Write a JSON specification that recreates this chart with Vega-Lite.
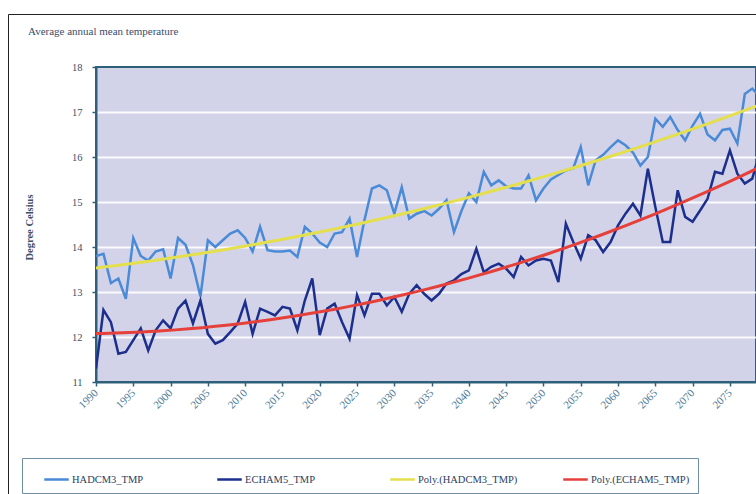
{
  "$schema": "https://vega.github.io/schema/vega-lite/v6.json",
  "width": 660,
  "height": 315,
  "autosize": {"type": "none"},
  "padding": {"left": 96, "top": 67, "right": 0, "bottom": 112},
  "background": "white",
  "title": {"text": "Average annual mean temperature", "anchor": "start", "frame": "group", "dx": -68, "dy": 53, "offset": 30, "fontSize": 11, "font": "Liberation Serif", "fontWeight": "normal", "color": "#3a4d6b"},
  "data": {"values": [
    {"year": 1990, "HADCM3_TMP": 13.8, "ECHAM5_TMP": 11.3},
    {"year": 1991, "HADCM3_TMP": 13.85, "ECHAM5_TMP": 12.6},
    {"year": 1992, "HADCM3_TMP": 13.2, "ECHAM5_TMP": 12.33},
    {"year": 1993, "HADCM3_TMP": 13.3, "ECHAM5_TMP": 11.63},
    {"year": 1994, "HADCM3_TMP": 12.85, "ECHAM5_TMP": 11.67},
    {"year": 1995, "HADCM3_TMP": 14.2, "ECHAM5_TMP": 11.93},
    {"year": 1996, "HADCM3_TMP": 13.8, "ECHAM5_TMP": 12.19},
    {"year": 1997, "HADCM3_TMP": 13.7, "ECHAM5_TMP": 11.7},
    {"year": 1998, "HADCM3_TMP": 13.9, "ECHAM5_TMP": 12.15},
    {"year": 1999, "HADCM3_TMP": 13.95, "ECHAM5_TMP": 12.37},
    {"year": 2000, "HADCM3_TMP": 13.3, "ECHAM5_TMP": 12.19},
    {"year": 2001, "HADCM3_TMP": 14.2, "ECHAM5_TMP": 12.63},
    {"year": 2002, "HADCM3_TMP": 14.05, "ECHAM5_TMP": 12.81},
    {"year": 2003, "HADCM3_TMP": 13.6, "ECHAM5_TMP": 12.3},
    {"year": 2004, "HADCM3_TMP": 12.9, "ECHAM5_TMP": 12.81},
    {"year": 2005, "HADCM3_TMP": 14.15, "ECHAM5_TMP": 12.07},
    {"year": 2006, "HADCM3_TMP": 14.0, "ECHAM5_TMP": 11.85},
    {"year": 2007, "HADCM3_TMP": 14.15, "ECHAM5_TMP": 11.93},
    {"year": 2008, "HADCM3_TMP": 14.3, "ECHAM5_TMP": 12.11},
    {"year": 2009, "HADCM3_TMP": 14.37, "ECHAM5_TMP": 12.3},
    {"year": 2010, "HADCM3_TMP": 14.2, "ECHAM5_TMP": 12.78},
    {"year": 2011, "HADCM3_TMP": 13.9, "ECHAM5_TMP": 12.07},
    {"year": 2012, "HADCM3_TMP": 14.45, "ECHAM5_TMP": 12.63},
    {"year": 2013, "HADCM3_TMP": 13.93, "ECHAM5_TMP": 12.56},
    {"year": 2014, "HADCM3_TMP": 13.9, "ECHAM5_TMP": 12.48},
    {"year": 2015, "HADCM3_TMP": 13.9, "ECHAM5_TMP": 12.67},
    {"year": 2016, "HADCM3_TMP": 13.92, "ECHAM5_TMP": 12.63},
    {"year": 2017, "HADCM3_TMP": 13.78, "ECHAM5_TMP": 12.15},
    {"year": 2018, "HADCM3_TMP": 14.45, "ECHAM5_TMP": 12.81},
    {"year": 2019, "HADCM3_TMP": 14.3, "ECHAM5_TMP": 13.3},
    {"year": 2020, "HADCM3_TMP": 14.1, "ECHAM5_TMP": 12.04},
    {"year": 2021, "HADCM3_TMP": 14.0, "ECHAM5_TMP": 12.63},
    {"year": 2022, "HADCM3_TMP": 14.3, "ECHAM5_TMP": 12.74},
    {"year": 2023, "HADCM3_TMP": 14.33, "ECHAM5_TMP": 12.33},
    {"year": 2024, "HADCM3_TMP": 14.63, "ECHAM5_TMP": 11.96},
    {"year": 2025, "HADCM3_TMP": 13.78, "ECHAM5_TMP": 12.93},
    {"year": 2026, "HADCM3_TMP": 14.6, "ECHAM5_TMP": 12.48},
    {"year": 2027, "HADCM3_TMP": 15.3, "ECHAM5_TMP": 12.96},
    {"year": 2028, "HADCM3_TMP": 15.37, "ECHAM5_TMP": 12.96},
    {"year": 2029, "HADCM3_TMP": 15.26, "ECHAM5_TMP": 12.7},
    {"year": 2030, "HADCM3_TMP": 14.74, "ECHAM5_TMP": 12.89},
    {"year": 2031, "HADCM3_TMP": 15.33, "ECHAM5_TMP": 12.56},
    {"year": 2032, "HADCM3_TMP": 14.63, "ECHAM5_TMP": 12.96},
    {"year": 2033, "HADCM3_TMP": 14.74, "ECHAM5_TMP": 13.15},
    {"year": 2034, "HADCM3_TMP": 14.8, "ECHAM5_TMP": 12.96},
    {"year": 2035, "HADCM3_TMP": 14.7, "ECHAM5_TMP": 12.81},
    {"year": 2036, "HADCM3_TMP": 14.85, "ECHAM5_TMP": 12.96},
    {"year": 2037, "HADCM3_TMP": 15.04, "ECHAM5_TMP": 13.19},
    {"year": 2038, "HADCM3_TMP": 14.33, "ECHAM5_TMP": 13.26},
    {"year": 2039, "HADCM3_TMP": 14.8, "ECHAM5_TMP": 13.4},
    {"year": 2040, "HADCM3_TMP": 15.19, "ECHAM5_TMP": 13.48},
    {"year": 2041, "HADCM3_TMP": 15.0, "ECHAM5_TMP": 13.96},
    {"year": 2042, "HADCM3_TMP": 15.67, "ECHAM5_TMP": 13.44},
    {"year": 2043, "HADCM3_TMP": 15.37, "ECHAM5_TMP": 13.56},
    {"year": 2044, "HADCM3_TMP": 15.48, "ECHAM5_TMP": 13.63},
    {"year": 2045, "HADCM3_TMP": 15.35, "ECHAM5_TMP": 13.52},
    {"year": 2046, "HADCM3_TMP": 15.3, "ECHAM5_TMP": 13.33},
    {"year": 2047, "HADCM3_TMP": 15.3, "ECHAM5_TMP": 13.78},
    {"year": 2048, "HADCM3_TMP": 15.59, "ECHAM5_TMP": 13.59},
    {"year": 2049, "HADCM3_TMP": 15.04, "ECHAM5_TMP": 13.7},
    {"year": 2050, "HADCM3_TMP": 15.3, "ECHAM5_TMP": 13.74},
    {"year": 2051, "HADCM3_TMP": 15.5, "ECHAM5_TMP": 13.7},
    {"year": 2052, "HADCM3_TMP": 15.6, "ECHAM5_TMP": 13.22},
    {"year": 2053, "HADCM3_TMP": 15.7, "ECHAM5_TMP": 14.52},
    {"year": 2054, "HADCM3_TMP": 15.75, "ECHAM5_TMP": 14.11},
    {"year": 2055, "HADCM3_TMP": 16.22, "ECHAM5_TMP": 13.74},
    {"year": 2056, "HADCM3_TMP": 15.37, "ECHAM5_TMP": 14.26},
    {"year": 2057, "HADCM3_TMP": 15.93, "ECHAM5_TMP": 14.15},
    {"year": 2058, "HADCM3_TMP": 16.05, "ECHAM5_TMP": 13.89},
    {"year": 2059, "HADCM3_TMP": 16.22, "ECHAM5_TMP": 14.11},
    {"year": 2060, "HADCM3_TMP": 16.37, "ECHAM5_TMP": 14.48},
    {"year": 2061, "HADCM3_TMP": 16.26, "ECHAM5_TMP": 14.74},
    {"year": 2062, "HADCM3_TMP": 16.1, "ECHAM5_TMP": 14.96},
    {"year": 2063, "HADCM3_TMP": 15.81, "ECHAM5_TMP": 14.7},
    {"year": 2064, "HADCM3_TMP": 16.0, "ECHAM5_TMP": 15.74},
    {"year": 2065, "HADCM3_TMP": 16.85, "ECHAM5_TMP": 14.89},
    {"year": 2066, "HADCM3_TMP": 16.67, "ECHAM5_TMP": 14.11},
    {"year": 2067, "HADCM3_TMP": 16.89, "ECHAM5_TMP": 14.11},
    {"year": 2068, "HADCM3_TMP": 16.6, "ECHAM5_TMP": 15.26},
    {"year": 2069, "HADCM3_TMP": 16.37, "ECHAM5_TMP": 14.67},
    {"year": 2070, "HADCM3_TMP": 16.7, "ECHAM5_TMP": 14.56},
    {"year": 2071, "HADCM3_TMP": 16.96, "ECHAM5_TMP": 14.81},
    {"year": 2072, "HADCM3_TMP": 16.5, "ECHAM5_TMP": 15.07},
    {"year": 2073, "HADCM3_TMP": 16.37, "ECHAM5_TMP": 15.67},
    {"year": 2074, "HADCM3_TMP": 16.6, "ECHAM5_TMP": 15.63},
    {"year": 2075, "HADCM3_TMP": 16.63, "ECHAM5_TMP": 16.15},
    {"year": 2076, "HADCM3_TMP": 16.3, "ECHAM5_TMP": 15.63},
    {"year": 2077, "HADCM3_TMP": 17.4, "ECHAM5_TMP": 15.41},
    {"year": 2078, "HADCM3_TMP": 17.52, "ECHAM5_TMP": 15.52},
    {"year": 2079, "HADCM3_TMP": 17.35, "ECHAM5_TMP": 16.1}
  ]},
  "encoding": {
    "x": {"field": "year", "type": "quantitative", "title": null,
      "scale": {"domain": [1990, 2078.5], "nice": false, "zero": false},
      "axis": {"values": [1990,1995,2000,2005,2010,2015,2020,2025,2030,2035,2040,2045,2050,2055,2060,2065,2070,2075], "format": "d", "labelAngle": -45, "labelAlign": "right", "labelBaseline": "middle", "labelFont": "Liberation Serif", "labelFontSize": 11, "labelColor": "#4a7898", "labelPadding": 5, "tickSize": 4, "tickColor": "#2f6079", "tickWidth": 1.5, "domainColor": "#2f6079", "domainWidth": 2, "grid": false, "labelOverlap": false, "labelFlush": false, "labelBound": false}}
  },
  "layer": [
    {
      "mark": {"type": "line", "strokeWidth": 2.5, "clip": true},
      "encoding": {
        "y": {"field": "HADCM3_TMP", "type": "quantitative", "title": "Degree Celsius",
          "scale": {"domain": [11, 18], "nice": false, "zero": false},
          "axis": {"values": [11,12,13,14,15,16,17,18], "labelFont": "Liberation Serif", "labelFontSize": 10.5, "labelColor": "#3d4f6a", "labelPadding": 10, "tickSize": 4, "tickColor": "#2f6079", "tickWidth": 1.5, "domainColor": "#2f6079", "domainWidth": 2, "grid": true, "gridColor": "#ffffff", "gridWidth": 2, "gridOpacity": {"condition": {"test": "datum.value == 11 || datum.value == 18", "value": 0}, "value": 0.9}, "titleFont": "Liberation Serif", "titleFontSize": 10.5, "titleFontWeight": "bold", "titleColor": "#3d4f6a", "titleX": -67, "titleY": 160, "titleAngle": -90, "titleAlign": "center", "titleBaseline": "middle"}},
        "color": {"datum": "HADCM3_TMP", "type": "nominal",
          "scale": {"domain": ["HADCM3_TMP", "ECHAM5_TMP", "Poly.(HADCM3_TMP)", "Poly.(ECHAM5_TMP)"], "range": ["#4a8ad6", "#1c2f8c", "#e4df4c", "#e5403a"]},
          "legend": {"orient": "none", "legendX": -74, "legendY": 391, "direction": "horizontal", "columns": 4, "gridAlign": "all", "columnPadding": 40, "padding": 8, "strokeColor": "#6d8ea3", "title": " ", "titleOrient": "left", "titlePadding": 13, "titleFontSize": 1, "symbolType": "stroke", "symbolStrokeWidth": 2.5, "symbolSize": 600, "labelFont": "Liberation Serif", "labelFontSize": 10.5, "labelColor": "#2c3e5c", "labelOffset": 2}}
      }
    },
    {
      "mark": {"type": "line", "strokeWidth": 2.5, "clip": true},
      "encoding": {
        "y": {"field": "ECHAM5_TMP", "type": "quantitative", "title": "Degree Celsius"},
        "color": {"datum": "ECHAM5_TMP", "type": "nominal"}
      }
    },
    {
      "transform": [{"regression": "HADCM3_TMP", "on": "year", "method": "poly", "order": 2}],
      "mark": {"type": "line", "strokeWidth": 3, "clip": true},
      "encoding": {
        "y": {"field": "HADCM3_TMP", "type": "quantitative", "title": "Degree Celsius"},
        "color": {"datum": "Poly.(HADCM3_TMP)", "type": "nominal"}
      }
    },
    {
      "transform": [{"regression": "ECHAM5_TMP", "on": "year", "method": "poly", "order": 2}],
      "mark": {"type": "line", "strokeWidth": 3, "clip": true},
      "encoding": {
        "y": {"field": "ECHAM5_TMP", "type": "quantitative", "title": "Degree Celsius"},
        "color": {"datum": "Poly.(ECHAM5_TMP)", "type": "nominal"}
      }
    },
    {
      "data": {"values": [{"f": "frame", "year": 2000}]},
      "mark": {"type": "point", "opacity": 0},
      "encoding": {
        "shape": {"field": "f", "type": "nominal", "legend": {"orient": "none", "legendX": -88, "legendY": -53, "padding": 420, "strokeColor": "#222222", "title": null, "labelExpr": "''", "symbolSize": 1, "symbolOpacity": 0, "symbolStrokeWidth": 0}}
      }
    }
  ],
  "config": {
    "view": {"stroke": "#2f6079", "strokeWidth": 2, "fill": "#d2d3e9"},
    "font": "Liberation Serif"
  }
}
